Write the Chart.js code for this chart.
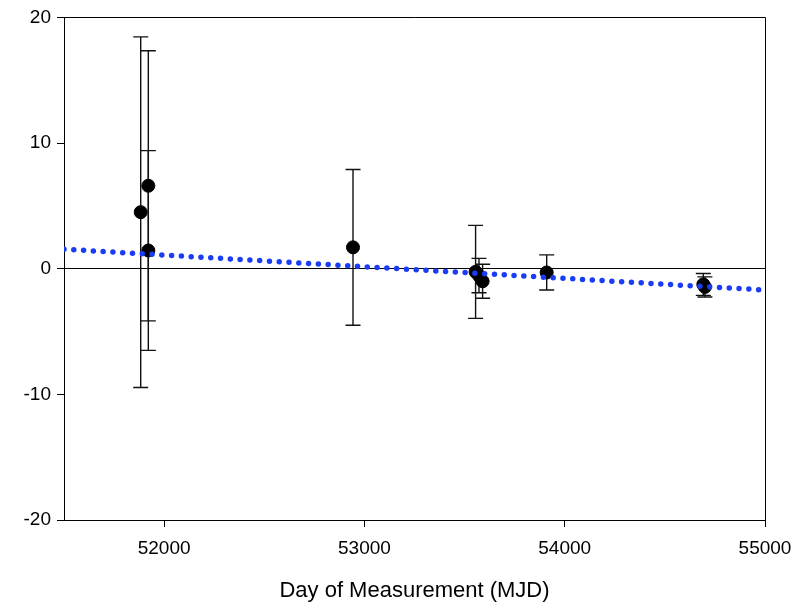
<!DOCTYPE html>
<html lang="en">
<head>
<meta charset="UTF-8">
<title>Day of Measurement (MJD)</title>
<script src="https://cdn.jsdelivr.net/npm/chart.js@4"></script>
<style>
  html, body { margin: 0; padding: 0; background: #fff; }
  canvas { display: block; }
</style>
</head>
<body>
<canvas id="chart" width="807" height="606"></canvas>
<script>
const mjd = [51883, 51921, 51921, 52943, 53555, 53572, 53590, 53910, 54692, 54700];
const values = [4.5, 6.6, 1.45, 1.7, -0.25, -0.55, -1.0, -0.3, -1.25, -1.45];
const errors = [13.95, 10.75, 7.95, 6.2, 3.7, 1.37, 1.35, 1.4, 0.87, 0.8];

// dotted linear trend, end points
const trendX = [51500, 55000];
const trendY = [1.55, -1.7];

const xTicks = [52000, 53000, 54000, 55000];
const yTicks = [-20, -10, 0, 10, 20];

const points = mjd.map((x, i) => ({ x: x, y: values[i] }));
const trend = trendX.map((x, i) => ({ x: x, y: trendY[i] }));

// vertical error bars with caps, drawn under the markers
const errorBars = {
    id: 'errorBars',
    beforeDatasetsDraw(chart) {
        const ctx = chart.ctx;
        const xs = chart.scales.x;
        const ys = chart.scales.y;
        ctx.save();
        ctx.strokeStyle = '#111';
        ctx.lineWidth = 1.4;
        mjd.forEach((x, i) => {
            const px = xs.getPixelForValue(x);
            const top = ys.getPixelForValue(values[i] + errors[i]);
            const bot = ys.getPixelForValue(values[i] - errors[i]);
            ctx.beginPath();
            ctx.moveTo(px, top);
            ctx.lineTo(px, bot);
            ctx.moveTo(px - 7.5, top);
            ctx.lineTo(px + 7.5, top);
            ctx.moveTo(px - 7.5, bot);
            ctx.lineTo(px + 7.5, bot);
            ctx.stroke();
        });
        ctx.restore();
    }
};

// closes the box on the top and right sides
const frame = {
    id: 'frame',
    afterDraw(chart) {
        const a = chart.chartArea;
        const ctx = chart.ctx;
        ctx.save();
        ctx.strokeStyle = '#000';
        ctx.lineWidth = 1;
        ctx.beginPath();
        ctx.moveTo(a.left, Math.round(a.top) + 0.5);
        ctx.lineTo(Math.round(a.right) + 0.5, Math.round(a.top) + 0.5);
        ctx.lineTo(Math.round(a.right) + 0.5, a.bottom);
        ctx.stroke();
        ctx.restore();
    }
};

const tickFont = { family: 'Liberation Sans, Arial, sans-serif', size: 19 };

new Chart(document.getElementById('chart'), {
    type: 'scatter',
    data: {
        datasets: [
            {
                type: 'line',
                data: trend,
                borderColor: '#1a3cf5',
                borderWidth: 5.5,
                borderDash: [0, 9.8],
                borderCapStyle: 'round',
                pointRadius: 0,
                fill: false
            },
            {
                data: points,
                backgroundColor: '#000',
                borderColor: '#000',
                borderWidth: 1,
                pointRadius: 6.5
            }
        ]
    },
    options: {
        responsive: false,
        animation: false,
        layout: { padding: { top: 17, right: 42, bottom: 0, left: 0 } },
        plugins: {
            legend: { display: false },
            tooltip: { enabled: false }
        },
        scales: {
            x: {
                type: 'linear',
                min: 51500,
                max: 55000,
                afterBuildTicks: axis => { axis.ticks = xTicks.map(v => ({ value: v })); },
                afterFit: axis => { axis.height = 86; },
                border: { color: '#000', width: 1 },
                grid: { drawOnChartArea: false, color: '#000', tickLength: 7 },
                ticks: {
                    color: '#000',
                    font: tickFont,
                    padding: 10,
                    maxRotation: 0,
                    callback: v => String(v)
                },
                title: {
                    display: true,
                    text: 'Day of Measurement (MJD)',
                    color: '#000',
                    font: { family: 'Liberation Sans, Arial, sans-serif', size: 22 },
                    padding: { top: 0, bottom: 2 }
                }
            },
            y: {
                min: -20,
                max: 20,
                afterBuildTicks: axis => { axis.ticks = yTicks.map(v => ({ value: v })); },
                afterFit: axis => { axis.width = 64; },
                border: { color: '#000', width: 1 },
                grid: {
                    color: c => (c.tick && c.tick.value === 0 ? '#000' : 'rgba(0,0,0,0)'),
                    tickColor: '#000',
                    tickLength: 7
                },
                ticks: {
                    color: '#000',
                    font: tickFont,
                    padding: 6,
                    callback: v => String(v)
                }
            }
        }
    },
    plugins: [errorBars, frame]
});
</script>
</body>
</html>
